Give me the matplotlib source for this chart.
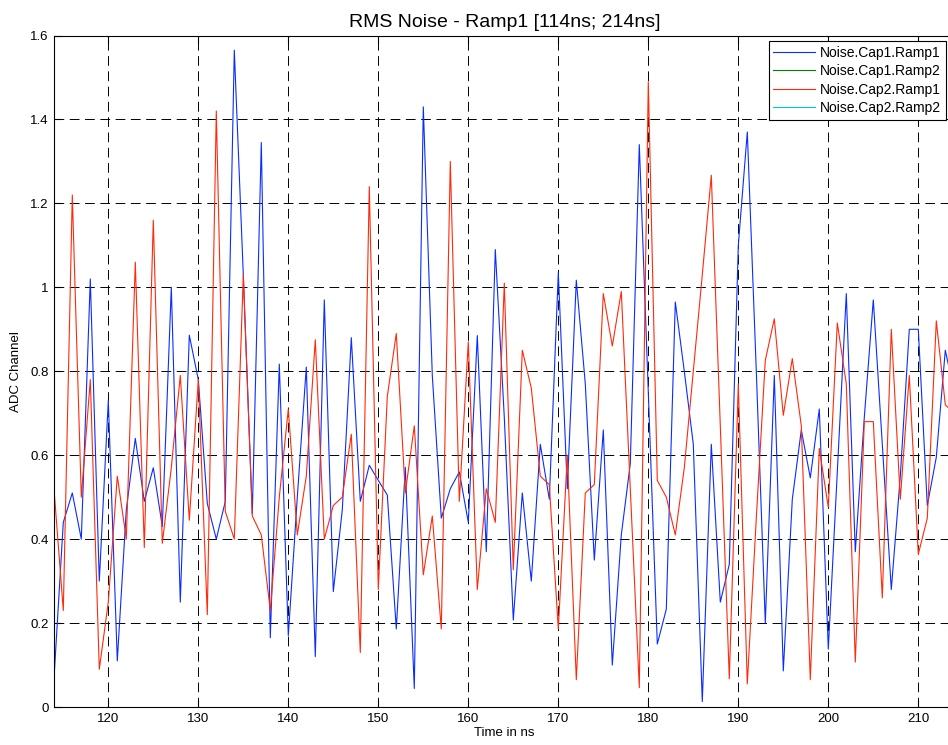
import numpy as np
import matplotlib
matplotlib.use("Agg")
import matplotlib.pyplot as plt

plt.rcParams['font.family'] = ['Liberation Sans', 'DejaVu Sans']
plt.rcParams['lines.scale_dashes'] = False

# time axis, one sample per ns
time_ns = list(range(114, 215))

cap1_ramp1 = [
    0.08, 0.44, 0.51, 0.40, 1.02, 0.30, 0.73, 0.11, 0.47, 0.64,   # 114-123
    0.49, 0.57, 0.43, 1.00, 0.25, 0.886, 0.78, 0.485, 0.40, 0.49,  # 124-133
    1.565, 1.03, 0.46, 1.345, 0.165, 0.817, 0.17, 0.50, 0.81, 0.12,  # 134-143
    0.97, 0.275, 0.47, 0.88, 0.49, 0.576, 0.54, 0.505, 0.186, 0.571,  # 144-153
    0.044, 1.43, 0.79, 0.45, 0.52, 0.56, 0.44, 0.885, 0.37, 1.09,  # 154-163
    0.69, 0.207, 0.51, 0.30, 0.626, 0.495, 1.035, 0.52, 1.017, 0.77,  # 164-173
    0.35, 0.66, 0.10, 0.41, 0.58, 1.34, 0.75, 0.15, 0.233, 0.965,  # 174-183
    0.80, 0.626, 0.013, 0.626, 0.25, 0.34, 1.10, 1.37, 0.80, 0.20,  # 184-193
    0.79, 0.086, 0.495, 0.66, 0.546, 0.71, 0.138, 0.56, 0.985, 0.37,  # 194-203
    0.69, 0.97, 0.626, 0.28, 0.55, 0.90, 0.90, 0.48, 0.595, 0.85,  # 204-213
    0.75,  # 214
]

cap2_ramp1 = [
    0.51, 0.23, 1.22, 0.50, 0.78, 0.09, 0.25, 0.55, 0.40, 1.06,  # 114-123
    0.38, 1.16, 0.39, 0.57, 0.79, 0.445, 0.78, 0.22, 1.42, 0.466,  # 124-133
    0.40, 1.03, 0.455, 0.41, 0.23, 0.50, 0.71, 0.41, 0.55, 0.875,  # 134-143
    0.40, 0.48, 0.50, 0.65, 0.13, 1.24, 0.28, 0.74, 0.89, 0.51,  # 144-153
    0.67, 0.315, 0.455, 0.186, 1.30, 0.49, 0.87, 0.28, 0.52, 0.44,  # 154-163
    1.01, 0.327, 0.85, 0.76, 0.55, 0.53, 0.186, 0.60, 0.065, 0.51,  # 164-173
    0.53, 0.985, 0.86, 0.99, 0.52, 0.046, 1.49, 0.54, 0.50, 0.41,  # 174-183
    0.57, 0.80, 1.03, 1.267, 0.67, 0.067, 0.77, 0.055, 0.45, 0.826,  # 184-193
    0.925, 0.695, 0.83, 0.67, 0.065, 0.616, 0.476, 0.915, 0.77, 0.107,  # 194-203
    0.68, 0.68, 0.26, 0.90, 0.495, 0.79, 0.364, 0.45, 0.92, 0.72,  # 204-213
    0.70,  # 214
]

legend_names = ['Noise.Cap1.Ramp1', 'Noise.Cap1.Ramp2',
                'Noise.Cap2.Ramp1', 'Noise.Cap2.Ramp2']
x_ticks = [120, 130, 140, 150, 160, 170, 180, 190, 200, 210]
y_ticks = [0, 0.2, 0.4, 0.6, 0.8, 1.0, 1.2, 1.4, 1.6]
y_tick_labels = ['0', '0.2', '0.4', '0.6', '0.8', '1', '1.2', '1.4', '1.6']

W, H = 948, 745
fig = plt.figure(figsize=(W / 100, H / 100), dpi=100)
ax = fig.add_axes([54.3 / W, 38 / H, 900 / W, 671.5 / H])

blue = '#0a2dff'
red = '#ff2a0a'
l1, = ax.plot(time_ns, cap1_ramp1, color=blue, lw=0.8)
# Ramp2 traces carry no data in this window, only in the legend
l2, = ax.plot([], [], color='#007f00', lw=0.8)
l3, = ax.plot(time_ns, cap2_ramp1, color=red, lw=0.8)
l4, = ax.plot([], [], color='#00c8c8', lw=0.8)

ax.set_xlim(114, 214)
ax.set_ylim(0, 1.6)
ax.set_xticks(x_ticks)
ax.set_yticks(y_ticks)
ax.set_yticklabels(y_tick_labels)
ax.tick_params(direction='in', length=5, width=0.8, labelsize=9.5,
               top=True, right=True, pad=4)
ax.grid(True, color='k', lw=0.7, linestyle=(0, (7, 4)))
for s in ax.spines.values():
    s.set_linewidth(0.8)

ax.set_title('RMS Noise - Ramp1 [114ns; 214ns]', fontsize=14, pad=6)
ax.set_xlabel('Time in ns', fontsize=9.5, labelpad=2)
ax.set_ylabel('ADC Channel', fontsize=9.5, labelpad=6)

leg = fig.legend([l1, l2, l3, l4], legend_names, loc='upper right',
                 bbox_to_anchor=(946 / W, 1 - 41 / H), fontsize=10,
                 frameon=True, fancybox=False, framealpha=1,
                 edgecolor='k', handlelength=3.0, handletextpad=0.35,
                 borderpad=0.35, labelspacing=0.32, borderaxespad=0)
leg.get_frame().set_linewidth(0.8)

fig.savefig('out.png', dpi=100)
